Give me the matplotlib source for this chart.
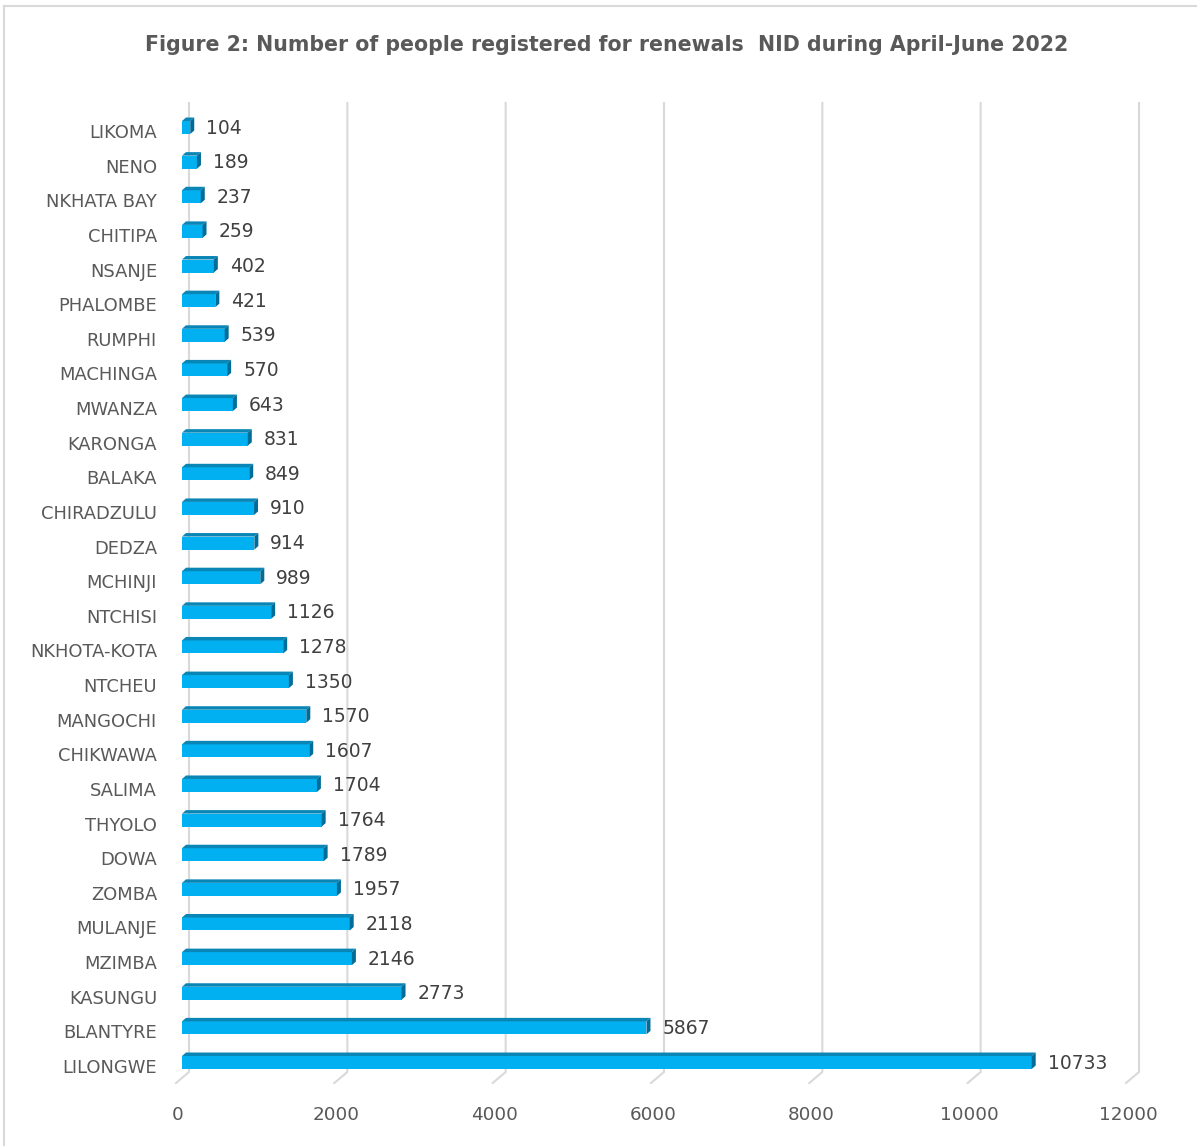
import matplotlib
matplotlib.use("Agg")
import matplotlib.pyplot as plt
from matplotlib.patches import Polygon
from matplotlib.lines import Line2D
from matplotlib.transforms import ScaledTranslation

districts = ["LIKOMA", "NENO", "NKHATA BAY", "CHITIPA", "NSANJE", "PHALOMBE", "RUMPHI",
             "MACHINGA", "MWANZA", "KARONGA", "BALAKA", "CHIRADZULU", "DEDZA", "MCHINJI",
             "NTCHISI", "NKHOTA-KOTA", "NTCHEU", "MANGOCHI", "CHIKWAWA", "SALIMA", "THYOLO",
             "DOWA", "ZOMBA", "MULANJE", "MZIMBA", "KASUNGU", "BLANTYRE", "LILONGWE"]
registered = [104, 189, 237, 259, 402, 421, 539, 570, 643, 831, 849, 910, 914, 989,
              1126, 1278, 1350, 1570, 1607, 1704, 1764, 1789, 1957, 2118, 2146, 2773,
              5867, 10733]
xticks = [0, 2000, 4000, 6000, 8000, 10000, 12000]
title = "Figure 2: Number of people registered for renewals  NID during April-June 2022"

W, H, DPI = 1197, 1146, 100
fig = plt.figure(figsize=(W / DPI, H / DPI), dpi=DPI)
fig.patch.set_facecolor("white")

# axes placement (pixels)
ax_left, ax_right = 182, 1132
ax_top, ax_bot = 103, 1085
ax = fig.add_axes([ax_left / W, 1 - ax_bot / H, (ax_right - ax_left) / W, (ax_bot - ax_top) / H])
XMAX = 12000
row_px = 34.63
first_row_px = 131
ax.set_xlim(0, XMAX)
ax.set_ylim((ax_bot - first_row_px) / row_px, (ax_top - first_row_px) / row_px)
for s in ax.spines.values():
    s.set_visible(False)

ux = XMAX / (ax_right - ax_left)  # data units per pixel in x
uy = 1 / row_px                    # data units per pixel in y

n = len(districts)
ypos = list(range(n))

# gridlines (back wall + floor diagonal)
grid_col = "#d9d9d9"
floor_back = (1072 - first_row_px) * uy
floor_front = (1083 - first_row_px) * uy
ytop = ax.get_ylim()[1]
for xv in xticks:
    xb = xv + 7 * ux
    xf = xv - 6 * ux
    ax.add_line(Line2D([xb, xb, xf], [ytop, floor_back, floor_front], color=grid_col,
                       lw=1.5, clip_on=False, zorder=1))

# bars with pseudo-3D faces
front_col = "#00b0f0"
top_col = "#0a86b6"
side_col = "#006c98"
bh = 13 * uy
dx, dy = 4 * ux, 3.5 * uy
for i, v in enumerate(registered):
    yc = ypos[i] - 3.5 * uy
    ax.barh(yc, v, height=bh, color=front_col, edgecolor="none", zorder=3)
    yt = yc - bh / 2
    yb = yc + bh / 2
    ax.add_patch(Polygon([(0, yt), (v, yt), (v + dx, yt - dy), (dx, yt - dy)],
                         closed=True, facecolor=top_col, edgecolor="none", zorder=3))
    ax.add_patch(Polygon([(v, yt), (v + dx, yt - dy), (v + dx, yb - dy), (v, yb)],
                         closed=True, facecolor=side_col, edgecolor="none", zorder=3))
    ax.text(v + 16 * ux, yc + 0.5 * uy, str(v), ha="left", va="center", fontsize=13.5,
            color="#404040", zorder=4)

# y labels
ax.set_yticks(ypos)
ax.set_yticklabels(districts, fontsize=12.9, color="#595959")
ax.tick_params(axis="y", length=0, pad=18)

# x labels
ax.set_xticks(xticks)
ax.set_xticklabels([str(x) for x in xticks], fontsize=13.2, color="#595959")
ax.tick_params(axis="x", length=0, pad=15)
off = ScaledTranslation(-4 / DPI, 0, fig.dpi_scale_trans)
for lab in ax.get_xticklabels():
    lab.set_transform(lab.get_transform() + off)

# title
fig.text(607 / W, 1 - 45 / H, title, ha="center", va="center", fontsize=14.8,
         fontweight="bold", color="#595959")

# border (top and left)
fig.add_artist(Line2D([4 / W, 1], [1 - 6 / H, 1 - 6 / H], transform=fig.transFigure,
                      color="#d9d9d9", lw=1.5))
fig.add_artist(Line2D([4 / W, 4 / W], [0, 1 - 6 / H], transform=fig.transFigure,
                      color="#d9d9d9", lw=1.5))

fig.savefig("out.png", dpi=DPI, facecolor="white")
